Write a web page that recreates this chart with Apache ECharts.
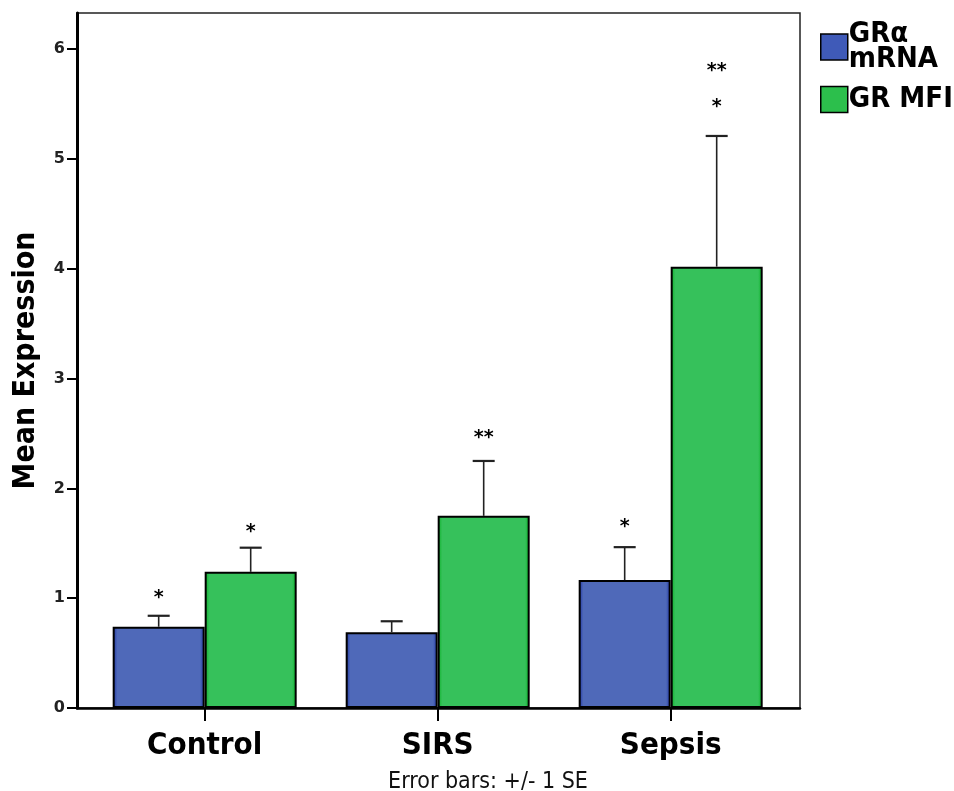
<!DOCTYPE html>
<html>
<head>
<meta charset="utf-8">
<script src="https://cdn.jsdelivr.net/npm/echarts@6/dist/echarts.min.js"></script>
<style>
  html, body { margin: 0; padding: 0; background: #fff; }
  #chart { width: 954px; height: 791px; }
</style>
</head>
<body>
<div id="chart"></div>
<script>
// Groups and per-group means with standard errors
const categories = ['Control', 'SIRS', 'Sepsis'];
const seriesNames = ['GRα mRNA', 'GR MFI'];
const mrnaMean = [0.74, 0.69, 1.165];
const mrnaSE = [0.10, 0.10, 0.30];
const mfiMean = [1.24, 1.75, 4.02];
const mfiSE = [0.22, 0.50, 1.19];
// Significance markers above each error bar (bottom to top)
const mrnaMarks = [['*'], [], ['*']];
const mfiMarks = [['*'], ['**'], ['*', '**']];
const yTicks = [0, 1, 2, 3, 4, 5, 6];

// Layout: pixel lift of each marker stack above its whisker cap
const mrnaMarkLift = [18, 0, 20];
const mfiMarkLift = [16, 23, 29];
const MARK_STEP = 36;

const FONT = '"Liberation Sans Narrow", "DejaVu Sans Condensed", "Liberation Sans", sans-serif';
const BAR_PX = 92;

const chart = echarts.init(document.getElementById('chart'), null, { renderer: 'canvas' });

function edgeGradient(edge, fill) {
  return new echarts.graphic.LinearGradient(0, 0, 1, 0, [
    { offset: 0, color: edge },
    { offset: 0.05, color: fill },
    { offset: 0.95, color: fill },
    { offset: 1, color: edge }
  ]);
}

// Error bar whisker (upper side only) plus significance markers
function errorRenderer(means, ses, marks, lifts, side) {
  return function (params, api) {
    const i = params.dataIndex;
    const dx = side * BAR_PX / 2;
    const base = api.coord([i, means[i]]);
    const top = api.coord([i, means[i] + ses[i]]);
    const x = base[0] + dx;
    const children = [
      { type: 'line', shape: { x1: x, y1: base[1], x2: x, y2: top[1] },
        style: { stroke: '#222', lineWidth: 1.6 } },
      { type: 'line', shape: { x1: x - 11, y1: top[1], x2: x + 11, y2: top[1] },
        style: { stroke: '#222', lineWidth: 2.2 } }
    ];
    (marks[i] || []).forEach(function (m, k) {
      children.push({
        type: 'text',
        style: {
          text: m, x: x, y: top[1] - lifts[i] - k * MARK_STEP,
          align: 'center', verticalAlign: 'middle',
          font: 'bold 19px "DejaVu Sans", sans-serif', fill: '#000'
        }
      });
    });
    return { type: 'group', children: children };
  };
}

const catTicks = categories.map(function (c, i) { return i; });

const option = {
  animation: false,
  backgroundColor: '#fff',
  grid: { left: 77, right: 154, top: 13, bottom: 83, containLabel: false },
  title: {
    text: 'Error bars: +/- 1 SE',
    left: 483, top: 766, textAlign: 'center',
    textStyle: { fontFamily: FONT, fontSize: 23, fontWeight: 'normal', color: '#111' }
  },
  legend: {
    orient: 'vertical', left: 815, top: 15,
    itemWidth: 27, itemHeight: 26, itemGap: 11,
    icon: 'rect',
    formatter: function (n) { return n === seriesNames[0] ? 'GRα\nmRNA' : n; },
    textStyle: { fontFamily: FONT, fontSize: 29, fontWeight: 'bold', color: '#000', lineHeight: 25, padding: [0, 0, 0, -4] },
    data: [
      { name: seriesNames[0], itemStyle: { color: '#3f5ab8', borderColor: '#000', borderWidth: 1.5 } },
      { name: seriesNames[1], itemStyle: { color: '#2cbf4c', borderColor: '#000', borderWidth: 1.5 } }
    ]
  },
  xAxis: {
    type: 'value', min: -0.548, max: 2.555,
    splitLine: { show: false },
    axisLine: { onZero: false, lineStyle: { color: '#000', width: 2.5 } },
    axisTick: { show: true, customValues: catTicks, length: 13, lineStyle: { color: '#000', width: 2 } },
    axisLabel: {
      customValues: catTicks, margin: 22, fontFamily: FONT, fontSize: 31, fontWeight: 'bold', color: '#000',
      formatter: function (v) { return categories[Math.round(v)] || ''; }
    }
  },
  yAxis: {
    type: 'value', min: 0, max: 6.33,
    name: 'Mean Expression', nameLocation: 'middle', nameGap: 36,
    nameTextStyle: { fontFamily: FONT, fontSize: 30, fontWeight: 'bold', color: '#000' },
    axisLine: { show: true, onZero: false, lineStyle: { color: '#000', width: 3 } },
    axisTick: { show: true, customValues: yTicks, length: 10, lineStyle: { color: '#000', width: 2 } },
    axisLabel: {
      customValues: yTicks, margin: 12, fontFamily: '"DejaVu Sans", sans-serif', fontSize: 16, fontWeight: 'bold', color: '#222'
    },
    splitLine: { show: false }
  },
  graphic: [{
    type: 'rect', z: -1, silent: true,
    shape: { x: 77, y: 13, width: 723, height: 695 },
    style: { fill: 'none', stroke: '#222', lineWidth: 1.5 }
  }],
  series: [
    {
      name: seriesNames[0], type: 'bar',
      data: mrnaMean.map(function (v, i) { return [i, v]; }),
      barWidth: BAR_PX, barGap: '0%',
      itemStyle: { color: edgeGradient('#1a2fa0', '#4f69b9'), borderColor: '#000', borderWidth: 2 }
    },
    {
      name: seriesNames[1], type: 'bar',
      data: mfiMean.map(function (v, i) { return [i, v]; }),
      barWidth: BAR_PX, barGap: '0%',
      itemStyle: { color: edgeGradient('#06b021', '#36c15b'), borderColor: '#000', borderWidth: 2 }
    },
    {
      type: 'custom', name: 'mrnaErr', data: mrnaMean.map(function (v, i) { return [i, v]; }),
      renderItem: errorRenderer(mrnaMean, mrnaSE, mrnaMarks, mrnaMarkLift, -1), z: 5, silent: true
    },
    {
      type: 'custom', name: 'mfiErr', data: mfiMean.map(function (v, i) { return [i, v]; }),
      renderItem: errorRenderer(mfiMean, mfiSE, mfiMarks, mfiMarkLift, 1), z: 5, silent: true
    }
  ]
};

chart.setOption(option);
</script>
</body>
</html>
